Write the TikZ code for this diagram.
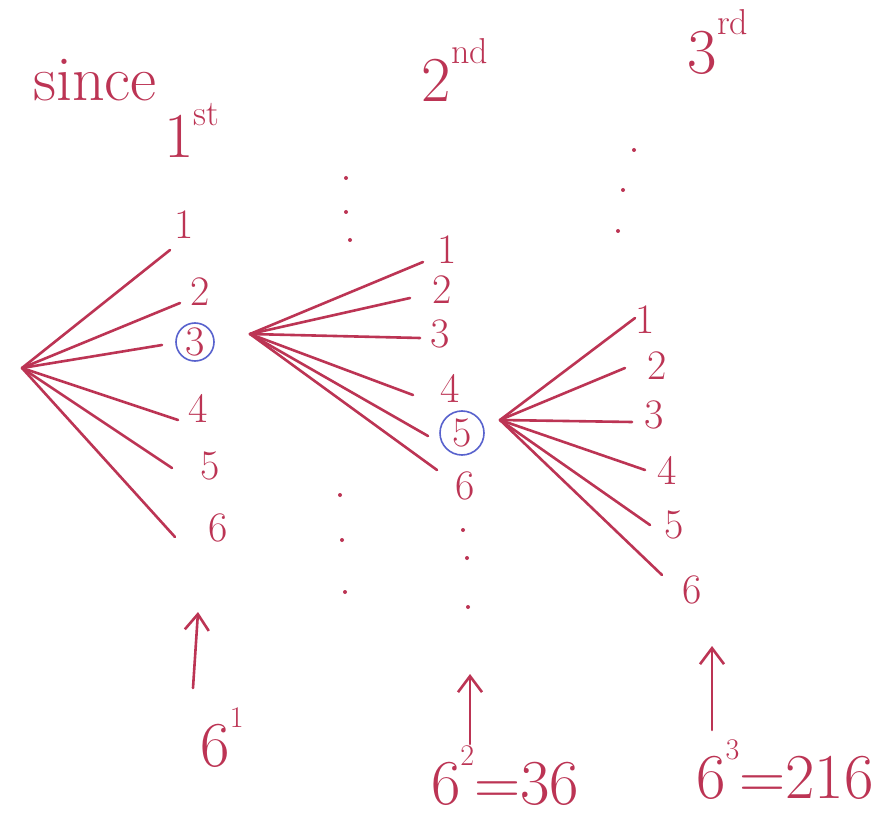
\documentclass[tikz,border=0pt]{standalone}
\usetikzlibrary{arrows.meta}
\definecolor{pen}{RGB}{188,52,84}
\definecolor{bpen}{RGB}{88,98,205}
\begin{document}
\begin{tikzpicture}[x=1pt,y=-1pt,
 stroke/.style={pen, line width=2.6pt, line cap=round},
 lbl/.style={text=pen, font=\fontsize{42}{42}\selectfont, inner sep=0pt},
 big/.style={text=pen, font=\fontsize{64}{64}\selectfont, inner sep=0pt},
 ring/.style={draw=bpen, line width=1.6pt, circle, minimum size=38pt},
 dotmark/.style={fill=pen, circle, inner sep=0pt, minimum size=4pt},
 uparrow/.style={pen, line width=2.6pt, line cap=round, -{Straight Barb[length=16pt,width=24pt,line width=2.6pt]}}]
\useasboundingbox[fill=white] (0,0) rectangle (895,821);
% headings
\node[big] (since) at (95,80) {since};
\node[big] (h1) at (192,130) {1\raisebox{0.5em}{\fontsize{36}{36}\selectfont st}};
\node[big] (h2) at (455,70) {2\raisebox{0.6em}{\fontsize{36}{36}\selectfont nd}};
\node[big] (h3) at (718,42) {3\raisebox{0.6em}{\fontsize{36}{36}\selectfont rd}};
% column 1
\coordinate (r1) at (22,368);
\node[lbl] (a1) at (184,225) {1};
\node[lbl] (a2) at (200,292) {2};
\node[lbl] (a3) at (195,342) {3};
\node[ring, minimum size=38pt] (c3) at (195,342) {};
\node[lbl] (a4) at (198,408) {4};
\node[lbl] (a5) at (210,466) {5};
\node[lbl] (a6) at (218,528) {6};
\coordinate (e11) at (170,250);
\coordinate (e12) at (180,303);
\coordinate (e13) at (162,345);
\coordinate (e14) at (178,420);
\coordinate (e15) at (172,468);
\coordinate (e16) at (175,537);
\foreach \e in {e11,e12,e13,e14,e15,e16} \draw[stroke] (r1) -- (\e);
% column 2
\coordinate (r2) at (250,334);
\node[dotmark] (u21) at (346,178) {};
\node[dotmark] (u22) at (346,212) {};
\node[dotmark] (u23) at (350,240) {};
\node[lbl] (b1) at (447,250) {1};
\node[lbl] (b2) at (442,290) {2};
\node[lbl] (b3) at (440,334) {3};
\node[lbl] (b4) at (450,388) {4};
\node[lbl] (b5) at (462,433) {5};
\node[ring, minimum size=44pt] (c5) at (462,433) {};
\node[lbl] (b6) at (465,486) {6};
\node[dotmark] (d21) at (340,495) {};
\node[dotmark] (d22) at (342,540) {};
\node[dotmark] (d23) at (345,592) {};
\node[dotmark] (d24) at (463,530) {};
\node[dotmark] (d25) at (467,558) {};
\node[dotmark] (d26) at (468,607) {};
\coordinate (e21) at (423,262);
\coordinate (e22) at (410,298);
\coordinate (e23) at (420,338);
\coordinate (e24) at (413,395);
\coordinate (e25) at (428,436);
\coordinate (e26) at (437,470);
\foreach \e in {e21,e22,e23,e24,e25,e26} \draw[stroke] (r2) -- (\e);
% column 3
\coordinate (r3) at (500,420);
\node[dotmark] (u31) at (634,150) {};
\node[dotmark] (u32) at (623,190) {};
\node[dotmark] (u33) at (618,231) {};
\node[lbl] (g1) at (645,320) {1};
\node[lbl] (g2) at (657,366) {2};
\node[lbl] (g3) at (654,415) {3};
\node[lbl] (g4) at (667,470) {4};
\node[lbl] (g5) at (674,525) {5};
\node[lbl] (g6) at (692,590) {6};
\coordinate (e31) at (635,318);
\coordinate (e32) at (625,368);
\coordinate (e33) at (632,422);
\coordinate (e34) at (645,470);
\coordinate (e35) at (650,525);
\coordinate (e36) at (662,575);
\foreach \e in {e31,e32,e33,e34,e35,e36} \draw[stroke] (r3) -- (\e);
% bottom counts
\node[big, anchor=base] (p1) at (222,766) {6\raisebox{0.6em}{\fontsize{30}{30}\selectfont 1}};
\node[big, anchor=base] (p2) at (505,804) {6\raisebox{0.6em}{\fontsize{30}{30}\selectfont 2}=36};
\node[big, anchor=base] (p3) at (785,798) {6\raisebox{0.6em}{\fontsize{30}{30}\selectfont 3}=216};
\coordinate (s1) at (193,688);
\coordinate (t1) at (198,612);
\coordinate (s2) at (470,744);
\coordinate (t2) at (470,674);
\coordinate (s3) at (712,730);
\coordinate (t3) at (712,646);
\draw[uparrow] (s1) -- (t1);
\draw[uparrow] (s2) -- (t2);
\draw[uparrow] (s3) -- (t3);
\end{tikzpicture}
\end{document}
